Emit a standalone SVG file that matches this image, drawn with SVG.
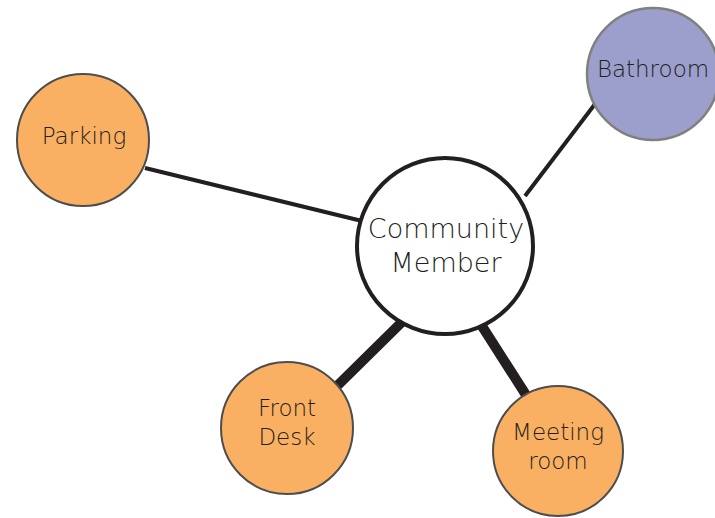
<svg xmlns="http://www.w3.org/2000/svg" width="715" height="518" viewBox="0 0 715 518">
<style>
.lbl{font-family:"DejaVu Sans","Liberation Sans",sans-serif;fill:#231f20;text-anchor:middle;font-weight:300}
.s{font-size:23px}
.b{font-size:27px}
.edge{stroke:#231f20;fill:none}
.orange{fill:#fab062;stroke:#4d4d4d;stroke-width:2}
</style>
<rect width="715" height="518" fill="#fff"/>
<g id="connectors">
<line class="edge" x1="145" y1="168" x2="362" y2="221" stroke-width="4"/>
<line class="edge" x1="525" y1="196" x2="595" y2="104" stroke-width="4"/>
<line class="edge" x1="337" y1="386" x2="404" y2="320" stroke-width="10"/>
<line class="edge" x1="480" y1="323" x2="526" y2="395" stroke-width="10"/>
</g>
<g id="center">
<circle cx="445" cy="246" r="88" fill="#fff" stroke="#231f20" stroke-width="4"/>
<text class="lbl b" x="446" y="238">Community</text>
<text class="lbl b" x="446" y="272">Member</text>
</g>
<g id="parking">
<circle class="orange" cx="83" cy="140" r="66"/>
<text class="lbl s" x="84" y="144">Parking</text>
</g>
<g id="bathroom">
<circle cx="653" cy="74" r="66" fill="#9c9ecb" stroke="#808080" stroke-width="2.5"/>
<text class="lbl s" x="653" y="77">Bathroom</text>
</g>
<g id="frontdesk">
<circle class="orange" cx="287" cy="428" r="66"/>
<text class="lbl s" x="287" y="416">Front</text>
<text class="lbl s" x="287" y="445">Desk</text>
</g>
<g id="meetingroom">
<circle class="orange" cx="558" cy="451" r="65"/>
<text class="lbl s" x="558" y="440">Meeting</text>
<text class="lbl s" x="558" y="469">room</text>
</g>
</svg>
